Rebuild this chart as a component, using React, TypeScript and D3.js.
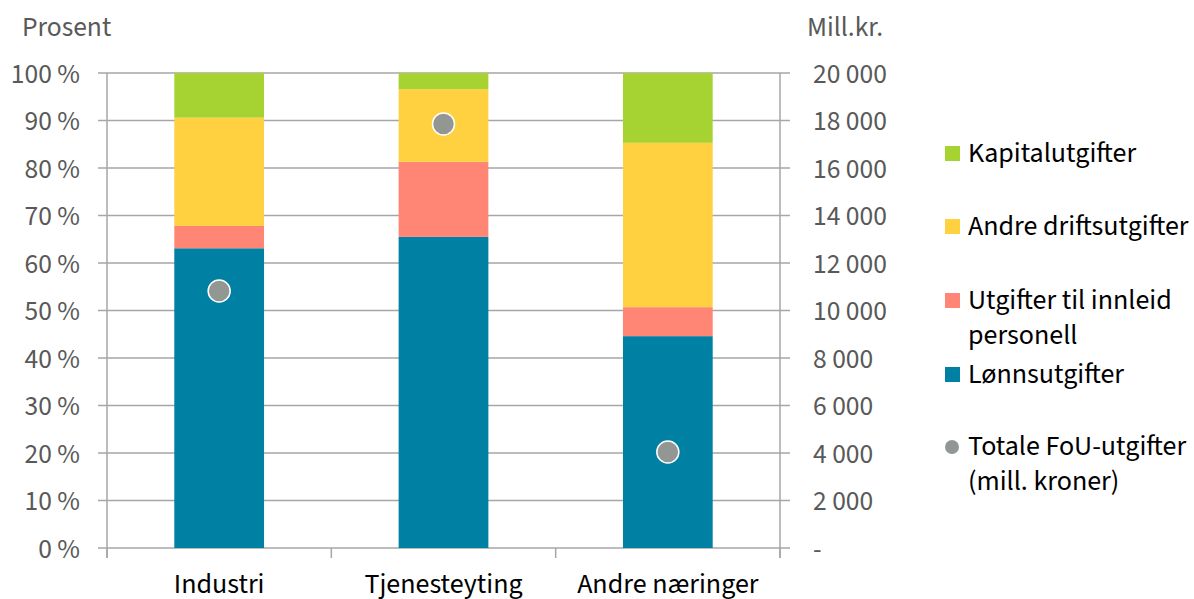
import React from "react";
import * as d3 from "d3";

const categories = ["Industri", "Tjenesteyting", "Andre næringer"];
const seriesNames = ["Lønnsutgifter", "Utgifter til innleid personell", "Andre driftsutgifter", "Kapitalutgifter"];
const lonn = [63.1, 65.5, 44.6];
const innleid = [4.7, 15.8, 6.1];
const andreDrift = [22.8, 15.3, 34.6];
const kapital = [9.4, 3.4, 14.7];
const totalFoU = [10820, 17850, 4040];
const seriesColors = ["#0080A3", "#FF8674", "#FFD03F", "#A6D332"];
const leftTicks = [0, 10, 20, 30, 40, 50, 60, 70, 80, 90, 100];
const rightTicks = [0, 2000, 4000, 6000, 8000, 10000, 12000, 14000, 16000, 18000, 20000];

const FONT = "'Source Sans Pro', 'Source Sans 3', Lato, 'Noto Sans', sans-serif";

export default function App() {
  const W = 1194, H = 599;
  const left = 107, right = 780, top = 73, bottom = 548;
  const x = d3.scaleBand<string>().domain(categories).range([left, right]).paddingInner(0.6).paddingOuter(0.3);
  const y = d3.scaleLinear().domain([0, 100]).range([bottom, top]);
  const y2 = d3.scaleLinear().domain([0, 20000]).range([bottom, top]);
  const values = [lonn, innleid, andreDrift, kapital];
  const rows = categories.map((c, i) => {
    const r: any = { cat: c };
    seriesNames.forEach((s, k) => (r[s] = values[k][i]));
    return r;
  });
  const stacked = d3.stack().keys(seriesNames)(rows);
  const boundaries = [0, 1, 2, 3].map((i) => left + i * ((right - left) / 3));
  const grid = "#A6A6A6";
  const fmtR = (v: number) => (v === 0 ? "-" : d3.format(",")(v).replace(/,/g, " "));
  const axisFs = 27.5;
  const fs = 28;

  const legend = [
    { type: "rect", color: seriesColors[3], lines: ["Kapitalutgifter"], y: 154 },
    { type: "rect", color: seriesColors[2], lines: ["Andre driftsutgifter"], y: 227 },
    { type: "rect", color: seriesColors[1], lines: ["Utgifter til innleid", "personell"], y: 301 },
    { type: "rect", color: seriesColors[0], lines: ["Lønnsutgifter"], y: 375 },
    { type: "circle", color: "#939794", lines: ["Totale FoU-utgifter", "(mill. kroner)"], y: 447 },
  ];

  return (
    <svg width={W} height={H} style={{ position: "absolute", left: 0, top: 0, fontFamily: FONT }}>
      <rect width={W} height={H} fill="#fff" />
      {leftTicks.map((t) => (
        <line key={"g" + t} x1={left - 9} x2={right + 10} y1={y(t)} y2={y(t)} stroke={grid} strokeWidth={1.5} />
      ))}
      <line x1={left} x2={left} y1={top} y2={bottom + 10} stroke={grid} strokeWidth={1.5} />
      <line x1={right} x2={right} y1={top} y2={bottom + 10} stroke={grid} strokeWidth={1.5} />
      {boundaries.map((b, i) => (
        <line key={"b" + i} x1={b} x2={b} y1={bottom} y2={bottom + 10} stroke={grid} strokeWidth={1.5} />
      ))}
      {stacked.map((layer, k) => (
        <g key={layer.key} fill={seriesColors[k]}>
          {layer.map((d, i) => (
            <rect
              key={i}
              x={x(categories[i])}
              width={x.bandwidth()}
              y={y(d[1])}
              height={y(d[0]) - y(d[1])}
            />
          ))}
        </g>
      ))}
      {totalFoU.map((v, i) => (
        <circle key={"c" + i} cx={(x(categories[i]) as number) + x.bandwidth() / 2} cy={y2(v)} r={11} fill="#939794" stroke="#fff" strokeWidth={1.5} />
      ))}
      {leftTicks.map((t) => (
        <text key={"l" + t} x={80} y={y(t)} dy="0.35em" textAnchor="end" fontSize={axisFs} fill="#595959">
          {t + " %"}
        </text>
      ))}
      {rightTicks.map((t) => (
        <text key={"r" + t} x={813} y={y2(t)} dy="0.35em" textAnchor="start" fontSize={axisFs} fill="#595959">
          {fmtR(t)}
        </text>
      ))}
      <text x={22} y={36} fontSize={axisFs} fill="#595959">Prosent</text>
      <text x={807} y={36} fontSize={axisFs} fill="#595959">Mill.kr.</text>
      {categories.map((c) => (
        <text key={c} x={(x(c) as number) + x.bandwidth() / 2} y={593} textAnchor="middle" fontSize={fs} fill="#000">
          {c}
        </text>
      ))}
      {legend.map((l, i) => (
        <g key={"lg" + i}>
          {l.type === "rect" ? (
            <rect x={945} y={l.y - 8} width={15} height={15} fill={l.color} />
          ) : (
            <circle cx={952} cy={l.y} r={7} fill={l.color} />
          )}
          {l.lines.map((t, j) => (
            <text key={j} x={968} y={l.y + 8 + j * 35} fontSize={fs} fill="#000">
              {t}
            </text>
          ))}
        </g>
      ))}
    </svg>
  );
}
